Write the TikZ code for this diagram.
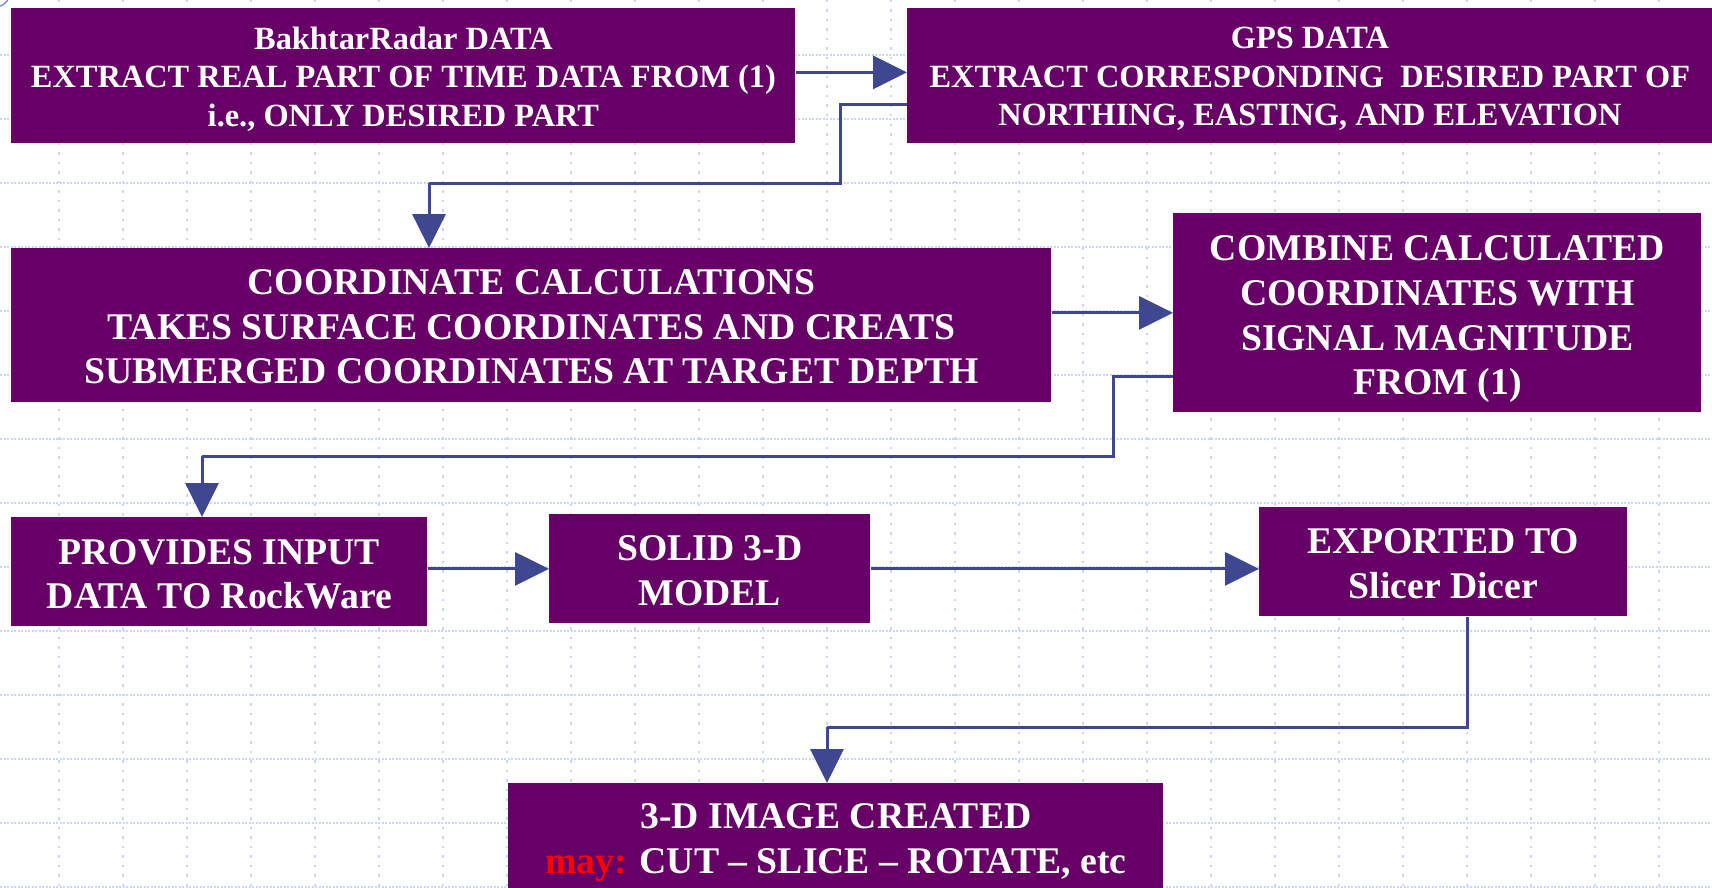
\documentclass[tikz,border=0pt]{standalone}
\usepackage{fontspec}
\setmainfont{Liberation Serif}
\usetikzlibrary{arrows.meta}
\definecolor{boxpurple}{HTML}{660066}
\definecolor{conncol}{RGB}{63,71,143}
\definecolor{gridcol}{RGB}{200,214,250}
\definecolor{ringcol}{RGB}{100,120,230}
\tikzset{
  flowbox/.style={draw=none, fill=boxpurple, inner sep=0pt, anchor=north west},
  boxtext/.style={text=white, inner sep=0pt, align=center},
  smalltext/.style={boxtext, font=\bfseries\fontsize{16.2}{19.2}\selectfont},
  bigtext/.style={boxtext, font=\bfseries\fontsize{18.85}{22.3}\selectfont},
  conn/.style={draw=conncol, line width=1.5pt},
  arr/.style={conn, -{Triangle[length=17pt,width=16.5pt]}},
  hgrid/.style={draw=gridcol, line width=0.75pt, dash pattern=on 1pt off 0.75pt},
  vgrid/.style={draw=gridcol, line width=0.75pt, dash pattern=on 1.25pt off 3.5pt}
}
\begin{document}
\begin{tikzpicture}[x=0.5pt,y=-0.5pt]
\useasboundingbox (0,0) rectangle (1712,888);
\clip (0,0) rectangle (1712,888);
\fill[white] (0,0) rectangle (1712,888);
% background grid
\foreach \k in {0,...,13} { \draw[hgrid] (0,55+64*\k) -- (1712,55+64*\k); }
\foreach \k in {0,...,25} { \draw[vgrid] (59+64*\k,0) -- (59+64*\k,888); }
\draw[ringcol, line width=0.6pt] (-5,-8) circle[radius=15];
% boxes
\node[flowbox, minimum width=392pt, minimum height=67.5pt] (b1) at (11,8) {};
\node[flowbox, minimum width=402.5pt, minimum height=67.5pt] (b2) at (907,8) {};
\node[flowbox, minimum width=520pt, minimum height=77pt] (b3) at (11,248) {};
\node[flowbox, minimum width=264pt, minimum height=99.5pt] (b4) at (1173,213) {};
\node[flowbox, minimum width=208pt, minimum height=54.5pt] (b5) at (11,517) {};
\node[flowbox, minimum width=160.5pt, minimum height=54.5pt] (b6) at (549,514) {};
\node[flowbox, minimum width=184pt, minimum height=54.5pt] (b7) at (1259,507) {};
\node[flowbox, minimum width=327.5pt, minimum height=55.5pt] (b8) at (508,783) {};
% texts
\node[smalltext, yshift=-1.5pt] (t1) at (b1.center)
  {BakhtarRadar DATA\\EXTRACT REAL PART OF TIME DATA FROM (1)\\i.e., ONLY DESIRED PART};
\node[smalltext, yshift=-1.5pt] (t2) at (b2.center)
  {GPS DATA\\EXTRACT CORRESPONDING\ \ DESIRED PART OF\\NORTHING, EASTING, AND ELEVATION};
\node[bigtext, yshift=-0.75pt] (t3) at (b3.center)
  {COORDINATE CALCULATIONS\\TAKES SURFACE COORDINATES AND CREATS\\SUBMERGED COORDINATES AT TARGET DEPTH};
\node[bigtext, yshift=-3.25pt] (t4) at (b4.center)
  {COMBINE CALCULATED\\COORDINATES WITH\\SIGNAL MAGNITUDE\\FROM (1)};
\node[bigtext, yshift=-1.1pt] (t5) at (b5.center) {PROVIDES INPUT\\DATA TO RockWare};
\node[bigtext, yshift=-0.8pt] (t6) at (b6.center) {SOLID 3-D\\MODEL};
\node[bigtext, yshift=-0.8pt] (t7) at (b7.center) {EXPORTED TO\\Slicer Dicer};
\node[bigtext, yshift=-1.8pt] (t8) at (b8.center)
  {3-D IMAGE CREATED\\{\color{red}may:} CUT – SLICE – ROTATE, etc};
% bend points
\coordinate (k1) at (840,183);
\coordinate (k2) at (429,183);
\coordinate (k3) at (1113,456);
\coordinate (k4) at (202,456);
\coordinate (k5) at (827,727);
% connectors
\draw[arr] ([yshift=1.75pt]b1.east) -- ([yshift=1.75pt]b2.west);
\draw[conn] ([yshift=-14.25pt]b2.west) -| (k1) -- (k2);
\draw[arr] (k2) -- (k2 |- b3.north);
\draw[arr] (b3.east |- b4.west) -- (b4.west);
\draw[conn] ([yshift=-31.75pt]b4.west) -| (k3) -- (k4);
\draw[arr] (k4) -- (k4 |- b5.north);
\draw[arr] (b5.east |- b6.west) -- (b6.west);
\draw[arr] (b6.east) -- (b6.east -| b7.west);
\draw[conn] ([xshift=12pt]b7.south) |- (k5);
\draw[arr] (k5) -- (k5 |- b8.north);
\end{tikzpicture}
\end{document}
